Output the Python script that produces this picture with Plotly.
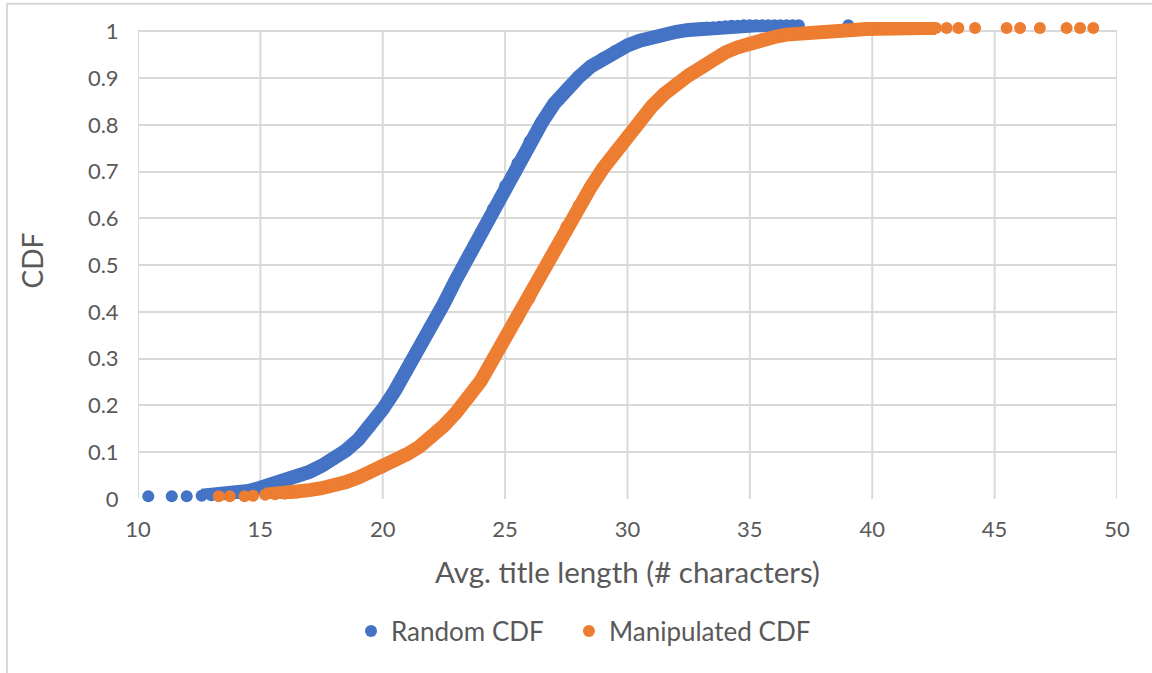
import plotly.graph_objects as go

# ---- data ----
# Random CDF: main band (x = avg. title length, y = CDF)
random_x = [12.6, 13.0, 13.5, 14.0, 14.5, 15.0, 15.5, 16.0, 16.5, 17.0, 17.5, 18.0, 18.5,
            19.0, 19.5, 20.0, 20.5, 21.0, 21.5, 22.0, 22.5, 23.0, 23.5, 24.0, 24.5, 25.0,
            25.5, 26.0, 26.5, 27.0, 27.5, 28.0, 28.5, 29.0, 29.5, 30.0, 30.5, 31.0, 31.5,
            32.0, 32.5, 33.0, 33.25, 33.5, 33.75, 34.0, 34.25, 34.5, 34.75, 35.0, 35.25,
            35.5, 35.75, 36.0, 36.25, 36.5, 36.75, 37.0]
random_y = [0.007, 0.008, 0.010, 0.013, 0.017, 0.024, 0.031, 0.038, 0.047, 0.058, 0.071, 0.086, 0.104,
            0.127, 0.156, 0.192, 0.232, 0.276, 0.325, 0.368, 0.418, 0.470, 0.520, 0.570, 0.620, 0.670,
            0.718, 0.765, 0.805, 0.845, 0.876, 0.902, 0.925, 0.943, 0.958, 0.970, 0.980, 0.988, 0.994,
            0.999, 1.003, 1.006, 1.008, 1.009, 1.010, 1.011, 1.012, 1.012, 1.013, 1.013, 1.013,
            1.013, 1.013, 1.013, 1.013, 1.013, 1.013, 1.013]
# Random CDF: isolated outlier dots
random_dots_x = [10.42, 11.38, 11.99, 39.02]
random_dots_y = [0.006, 0.006, 0.006, 1.013]

# Manipulated CDF: main band
manip_x = [15.2, 15.6, 16.0, 16.5, 17.0, 17.5, 18.0, 18.5, 19.0, 19.5, 20.0, 20.5, 21.0,
           21.5, 22.0, 22.5, 23.0, 23.5, 24.0, 24.5, 25.0, 25.5, 26.0, 26.5, 27.0, 27.5,
           28.0, 28.5, 29.0, 29.5, 30.0, 30.5, 31.0, 31.5, 32.0, 32.5, 33.0, 33.5, 34.0,
           34.5, 35.0, 35.5, 36.0, 36.5, 37.0, 37.5, 38.0, 38.25, 38.5, 38.75, 39.0, 39.25,
           39.5, 39.75, 40.0, 40.25, 40.5, 40.75, 41.0, 41.25, 41.5, 41.75, 42.0, 42.3, 42.6]
manip_y = [0.009, 0.010, 0.011, 0.014, 0.019, 0.023, 0.028, 0.036, 0.046, 0.057, 0.068, 0.081, 0.096,
           0.112, 0.132, 0.157, 0.185, 0.215, 0.252, 0.298, 0.345, 0.385, 0.430, 0.483, 0.530, 0.582,
           0.627, 0.667, 0.707, 0.743, 0.776, 0.806, 0.840, 0.866, 0.889, 0.906, 0.922, 0.940, 0.955,
           0.966, 0.975, 0.983, 0.988, 0.993, 0.996, 0.998, 1.000, 1.001, 1.001, 1.002, 1.002, 1.003,
           1.004, 1.005, 1.006, 1.007, 1.007, 1.007, 1.007, 1.007, 1.007, 1.007, 1.007, 1.007, 1.007]
# Manipulated CDF: isolated outlier dots
manip_dots_x = [13.3, 13.75, 14.35, 14.7, 43.04, 43.52, 44.2, 45.49, 46.04, 46.85, 47.94, 48.49, 49.03]
manip_dots_y = [0.006, 0.006, 0.006, 0.007, 1.007, 1.007, 1.007, 1.007, 1.007, 1.007, 1.007, 1.007, 1.007]

x_ticks = [10, 15, 20, 25, 30, 35, 40, 45, 50]
y_ticks = [0, 0.1, 0.2, 0.3, 0.4, 0.5, 0.6, 0.7, 0.8, 0.9, 1]
y_tick_text = ["0", "0.1", "0.2", "0.3", "0.4", "0.5", "0.6", "0.7", "0.8", "0.9", "1"]

BLUE = "#4472C4"
ORANGE = "#ED7D31"
TXT = "#595959"
GRID = "#D9D9D9"
FONT = "Lato, 'Open Sans', sans-serif"

fig = go.Figure()

fig.add_trace(go.Scatter(x=random_x, y=random_y, mode="lines+markers",
                         line=dict(color=BLUE, width=14),
                         marker=dict(color=BLUE, size=12),
                         cliponaxis=False, showlegend=False, hoverinfo="x+y"))
fig.add_trace(go.Scatter(x=random_dots_x, y=random_dots_y, mode="markers",
                         marker=dict(color=BLUE, size=12),
                         cliponaxis=False, name="Random CDF", legend="legend"))
fig.add_trace(go.Scatter(x=manip_x, y=manip_y, mode="lines+markers",
                         line=dict(color=ORANGE, width=14),
                         marker=dict(color=ORANGE, size=12),
                         cliponaxis=False, showlegend=False, hoverinfo="x+y"))
fig.add_trace(go.Scatter(x=manip_dots_x, y=manip_dots_y, mode="markers",
                         marker=dict(color=ORANGE, size=12),
                         cliponaxis=False, name="Manipulated CDF", legend="legend2"))

# vertical gridlines only from 0 to 1 (the y range runs a little above 1)
grid_shapes = [dict(type="line", xref="x", yref="y", x0=t, x1=t, y0=0, y1=1,
                    line=dict(color=GRID, width=2), layer="below") for t in x_ticks]
border = dict(type="rect", xref="paper", yref="paper",
              x0=-0.1338, x1=1.06, y0=-0.40, y1=1.0385,
              line=dict(color=GRID, width=2), fillcolor="rgba(0,0,0,0)", layer="below")

legend_common = dict(orientation="h", xanchor="left", y=-0.277, yanchor="middle",
                     font=dict(size=26, color=TXT), itemsizing="constant",
                     bgcolor="rgba(0,0,0,0)")

fig.update_layout(
    width=1152, height=673,
    margin=dict(l=138, r=35, t=22, b=174),
    paper_bgcolor="white", plot_bgcolor="white",
    font=dict(family=FONT, color=TXT, size=22),
    xaxis=dict(range=[10, 50], tickvals=x_ticks, showgrid=False,
               zeroline=False, showline=False, ticks="outside", ticklen=11,
               tickcolor="rgba(0,0,0,0)", tickfont=dict(size=22, color=TXT),
               title=dict(text="Avg. title length (# characters)",
                          font=dict(size=29.5, color=TXT), standoff=20)),
    yaxis=dict(range=[0, 1.02], tickvals=y_ticks, ticktext=y_tick_text, showgrid=True,
               gridcolor=GRID, gridwidth=2, zeroline=False, showline=False,
               ticks="outside", ticklen=14, tickcolor="rgba(0,0,0,0)",
               tickfont=dict(size=22, color=TXT),
               title=dict(text="CDF", font=dict(size=28, color=TXT), standoff=36)),
    legend=dict(x=0.2176, **legend_common),
    legend2=dict(x=0.4402, **legend_common),
    shapes=grid_shapes + [border],
)

fig.write_html("out.html")
